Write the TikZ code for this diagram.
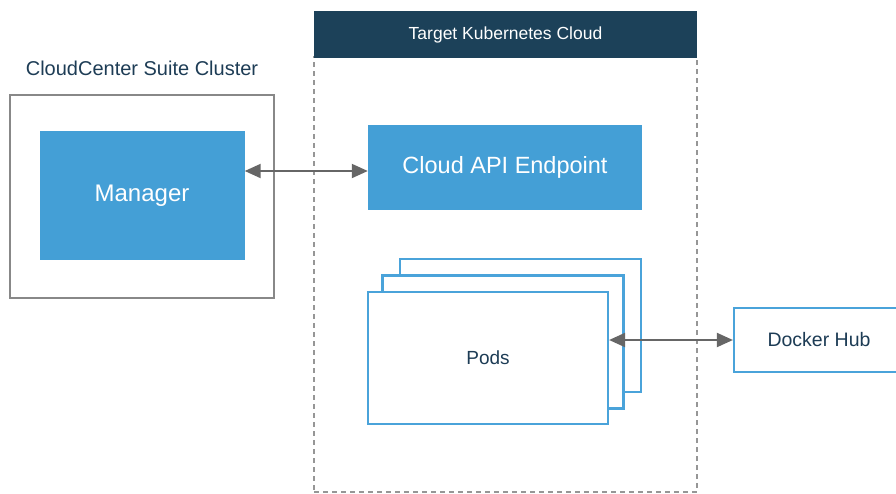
\documentclass[tikz,border=0pt]{standalone}
\usepackage{fontspec}
\setmainfont{Liberation Sans}
\usepackage{tikz}
\usetikzlibrary{arrows.meta,shapes,positioning}
\usepackage{xcolor}
\definecolor{kbnavy}{RGB}{28,65,89}
\definecolor{kbblue}{RGB}{68,159,214}
\definecolor{kbline}{RGB}{74,163,218}
\definecolor{kbtext}{RGB}{29,60,85}
\definecolor{kbgrey}{RGB}{136,136,136}
\definecolor{kbdash}{RGB}{150,150,150}
\definecolor{kbarrow}{RGB}{102,102,102}
\tikzstyle{arrow} = [line width=2pt,{Triangle[length=16pt,width=14pt]}-{Triangle[length=16pt,width=14pt]},color=kbarrow]

\begin{document}
\begin{tikzpicture}[x=1pt, y=-1pt,
    solid/.style={rectangle, draw=none, fill=kbblue, text=white, inner sep=0pt},
    frame/.style={rectangle, draw=kbline, line width=2.2pt, fill=white, text=kbtext, inner sep=0pt}]

\clip (0,0) rectangle (896,493);

% Target cloud
\node[rectangle, draw=kbdash, dashed, dash pattern=on 5pt off 4pt, line width=1.5pt, minimum width=383pt, minimum height=435pt, inner sep=0pt] (k8s) at (505.5,274.5) {};
\node[rectangle, fill=kbnavy, text=white, minimum width=383pt, minimum height=47pt, inner sep=0pt, font=\fontsize{17.5}{20}\selectfont] (k8shead) at (505.5,34.5) {Target Kubernetes Cloud};

% Suite cluster
\node[text=kbtext, font=\fontsize{20}{24}\selectfont] (clusterlabel) at (142,68) {CloudCenter Suite Cluster};
\node[rectangle, draw=kbgrey, line width=2pt, minimum width=264pt, minimum height=203pt, inner sep=0pt] (cluster) at (142,196) {};
\node[solid, minimum width=205pt, minimum height=129pt, font=\fontsize{24}{28}\selectfont] (manager) at (142,195.5) {Manager};

% Endpoint and pods
\node[solid, minimum width=274pt, minimum height=85pt, font=\fontsize{23.5}{28}\selectfont] (api) at (505,167.5) {Cloud API Endpoint};
\node[frame, minimum width=241pt, minimum height=133pt] (pods3) at (520.5,325.5) {};
\node[frame, minimum width=241pt, minimum height=133pt] (pods2) at (503,342) {};
\node[frame, minimum width=240pt, minimum height=132pt, font=\fontsize{19}{22}\selectfont] (pods) at (488,358) {Pods};

% Docker hub
\node[frame, minimum width=170pt, minimum height=64pt, font=\fontsize{19.5}{22}\selectfont] (docker) at (819,340) {Docker Hub};

% Links
\draw[arrow] (manager.east |- 0,171) -- (api.west |- 0,171);
\draw[arrow] (pods.east |- docker.west) -- (docker.west);

\end{tikzpicture}
\end{document}
